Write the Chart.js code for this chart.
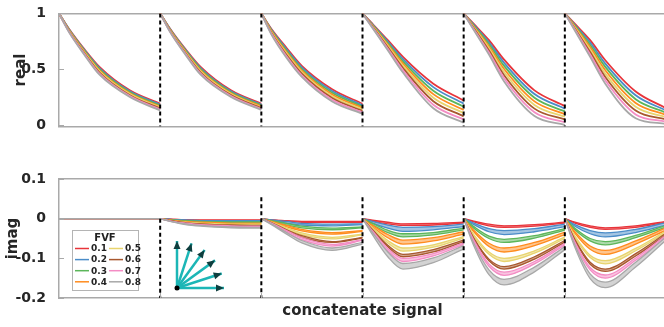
<!DOCTYPE html>
<html>
<head>
<meta charset="utf-8">
<script src="https://cdn.jsdelivr.net/npm/chart.js@4.4.1/dist/chart.umd.min.js"></script>
<style>
	html, body { margin: 0; padding: 0; background: #fff; }
	#wrap { position: relative; width: 664px; height: 327px; overflow: hidden; }
	#realBox { position: absolute; left: 0; top: 0; width: 672px; height: 140px; }
	#imagBox { position: absolute; left: 0; top: 160px; width: 672px; height: 167px; }
</style>
</head>
<body>
<div id="wrap">
	<div id="realBox"><canvas id="realChart"></canvas></div>
	<div id="imagBox"><canvas id="imagChart"></canvas></div>
</div>
<script>
// six concatenated decay segments, sampled at these fractions of each segment
const segmentCount = 6;
const fractions = [0, 0.1, 0.25, 0.4, 0.7, 1];
const dividerX = [1, 2, 3, 4, 5];

const fvf = ["0.1", "0.2", "0.3", "0.4", "0.5", "0.6", "0.7", "0.8"];
const fvfColors = ["#e8343a", "#4a8cc8", "#5cb65a", "#ff8c1e", "#e8d46e", "#a8582e", "#f48cc4", "#a8a8a8"];

const realTicks = [0, 0.5, 1];
const imagTicks = [-0.2, -0.1, 0, 0.1];

// every segment starts from these values
const realStart = 1;
const imagStart = 0;

// real part, 5 values per segment (at fractions 0.1, 0.25, 0.4, 0.7, 1)
const realF1 = [.86,.68,.52,.31,.19, .86,.68,.52,.31,.19, .86,.69,.53,.32,.19, .905,.76,.61,.37,.22, .905,.76,.585,.31,.17, .905,.76,.58,.30,.15];
const realF2 = [.856,.673,.51,.301,.181, .856,.673,.51,.301,.182, .853,.677,.516,.304,.177, .900,.747,.59,.339,.191, .897,.741,.557,.277,.146, .896,.739,.55,.266,.13];
const realF3 = [.851,.666,.50,.293,.173, .851,.666,.50,.293,.174, .846,.664,.501,.289,.164, .894,.734,.57,.307,.163, .889,.723,.529,.244,.121, .888,.717,.52,.231,.11];
const realF4 = [.847,.659,.49,.284,.164, .847,.659,.49,.284,.166, .839,.651,.487,.273,.151, .889,.721,.55,.276,.134, .881,.704,.501,.211,.097, .879,.696,.49,.197,.09];
const realF5 = [.843,.651,.48,.276,.156, .843,.651,.48,.276,.158, .831,.639,.473,.257,.139, .884,.709,.53,.244,.106, .874,.686,.474,.179,.073, .871,.674,.46,.163,.07];
const realF6 = [.839,.644,.47,.267,.147, .839,.644,.47,.267,.150, .824,.626,.459,.241,.126, .879,.696,.51,.213,.077, .866,.667,.446,.146,.049, .862,.653,.43,.129,.05];
const realF7 = [.834,.637,.46,.259,.139, .834,.637,.46,.259,.142, .817,.613,.444,.226,.113, .873,.683,.49,.181,.049, .858,.649,.418,.113,.024, .854,.631,.40,.094,.03];
const realF8 = [.83,.63,.45,.25,.13, .83,.63,.45,.25,.135, .81,.60,.43,.21,.10, .868,.67,.47,.15,.02, .85,.63,.39,.08,0, .845,.61,.37,.06,.01];

// imag part, upper and lower edge of each FVF band
const imagHiF1 = [0,0,0,0,0, -.001,-.003,-.003,-.003,-.003, -.003,-.005,-.007,-.007,-.007, -.004,-.009,-.013,-.012,-.009, -.006,-.014,-.018,-.015,-.009, -.009,-.018,-.023,-.018,-.007];
const imagLoF1 = [0,0,0,0,0, -.001,-.003,-.005,-.005,-.005, -.003,-.007,-.009,-.009,-.009, -.006,-.013,-.017,-.016,-.011, -.008,-.018,-.022,-.019,-.011, -.011,-.022,-.027,-.022,-.009];
const imagHiF2 = [0,0,0,0,0, -.002,-.003,-.005,-.005,-.005, -.003,-.007,-.012,-.014,-.013, -.007,-.016,-.022,-.020,-.014, -.011,-.025,-.030,-.025,-.014, -.015,-.030,-.036,-.027,-.010];
const imagLoF2 = [0,0,0,0,0, -.002,-.005,-.007,-.007,-.007, -.005,-.011,-.016,-.018,-.015, -.011,-.024,-.032,-.028,-.020, -.015,-.033,-.040,-.033,-.020, -.019,-.038,-.046,-.035,-.016];
const imagHiF3 = [0,0,0,0,0, -.003,-.005,-.007,-.008,-.008, -.005,-.012,-.019,-.024,-.021, -.012,-.029,-.038,-.035,-.024, -.020,-.044,-.052,-.043,-.025, -.024,-.050,-.058,-.042,-.017];
const imagLoF3 = [0,0,0,0,0, -.003,-.007,-.009,-.010,-.010, -.007,-.016,-.023,-.028,-.023, -.016,-.035,-.046,-.041,-.028, -.024,-.050,-.060,-.049,-.029, -.028,-.056,-.066,-.048,-.021];
const imagHiF4 = [0,0,0,0,0, -.004,-.007,-.009,-.011,-.011, -.007,-.017,-.027,-.035,-.030, -.017,-.040,-.054,-.048,-.033, -.029,-.062,-.074,-.060,-.034, -.033,-.069,-.080,-.056,-.023];
const imagLoF4 = [0,0,0,0,0, -.004,-.009,-.011,-.013,-.013, -.009,-.021,-.031,-.039,-.032, -.021,-.048,-.064,-.056,-.039, -.033,-.070,-.084,-.068,-.040, -.037,-.077,-.090,-.064,-.029];
const imagHiF5 = [0,0,0,0,0, -.005,-.009,-.011,-.014,-.014, -.009,-.023,-.036,-.047,-.039, -.023,-.055,-.074,-.066,-.045, -.040,-.084,-.100,-.081,-.046, -.044,-.092,-.106,-.075,-.031];
const imagLoF5 = [0,0,0,0,0, -.005,-.011,-.013,-.016,-.016, -.011,-.027,-.040,-.051,-.041, -.027,-.061,-.082,-.072,-.049, -.044,-.090,-.108,-.087,-.050, -.048,-.098,-.114,-.081,-.035];
const imagHiF6 = [0,0,0,0,0, -.005,-.010,-.013,-.016,-.017, -.010,-.028,-.043,-.058,-.047, -.028,-.067,-.090,-.078,-.054, -.049,-.102,-.121,-.096,-.055, -.053,-.110,-.127,-.088,-.037];
const imagLoF6 = [0,0,0,0,0, -.005,-.012,-.015,-.018,-.019, -.012,-.030,-.047,-.060,-.049, -.030,-.071,-.096,-.084,-.058, -.051,-.106,-.127,-.102,-.059, -.055,-.115,-.133,-.094,-.041];
const imagHiF7 = [0,0,0,0,0, -.006,-.011,-.015,-.018,-.019, -.011,-.030,-.048,-.065,-.053, -.031,-.075,-.100,-.088,-.061, -.054,-.114,-.135,-.108,-.062, -.059,-.123,-.142,-.099,-.042];
const imagLoF7 = [0,0,0,0,0, -.006,-.013,-.017,-.020,-.021, -.013,-.034,-.053,-.069,-.055, -.035,-.081,-.108,-.094,-.065, -.058,-.120,-.143,-.114,-.066, -.063,-.129,-.150,-.105,-.046];
const imagHiF8 = [0,0,0,0,0, -.007,-.013,-.017,-.021,-.022, -.013,-.035,-.055,-.074,-.060, -.035,-.084,-.113,-.099,-.068, -.062,-.129,-.153,-.122,-.070, -.067,-.139,-.160,-.110,-.046];
const imagLoF8 = [0,0,0,0,0, -.007,-.015,-.019,-.023,-.024, -.015,-.039,-.061,-.080,-.064, -.041,-.096,-.127,-.111,-.076, -.068,-.141,-.167,-.134,-.078, -.073,-.151,-.174,-.122,-.054];

// dashed separators: y extent in each panel
const realDividerTop = [1, 1, 1, 1, 1];
const realDividerBottom = -0.015;
const imagDividerTop = [0, 0.054, 0.054, 0.054, 0.054];
const imagDividerBottom = -0.2;

// fibre orientations in the inset (degrees)
const orientations = [0, 18, 36, 54, 72, 90];

const realSeries = [realF1, realF2, realF3, realF4, realF5, realF6, realF7, realF8];
const imagHiSeries = [imagHiF1, imagHiF2, imagHiF3, imagHiF4, imagHiF5, imagHiF6, imagHiF7, imagHiF8];
const imagLoSeries = [imagLoF1, imagLoF2, imagLoF3, imagLoF4, imagLoF5, imagLoF6, imagLoF7, imagLoF8];

const axisGray = "#a9a9a9";

Chart.defaults.font.family = "'DejaVu Sans', sans-serif";
Chart.defaults.font.weight = "bold";
Chart.defaults.color = "#222";

/**
 * Turn a per-segment value list into {x, y} points with a gap between segments
 */
function buildPoints(values, start) {
	const pts = [];
	const per = fractions.length - 1;
	for (let s = 0; s < segmentCount; s++) {
		pts.push({ x: s, y: start });
		for (let k = 1; k < fractions.length; k++) {
			pts.push({ x: s + fractions[k], y: values[s * per + k - 1] });
		}
		if (s < segmentCount - 1) pts.push({ x: s + 1, y: null });
	}
	return pts;
}

function withAlpha(hex, a) {
	const n = parseInt(hex.slice(1), 16);
	return "rgba(" + (n >> 16) + "," + ((n >> 8) & 255) + "," + (n & 255) + "," + a + ")";
}

function dividerSets(tops, bottom) {
	return dividerX.map(function (x, i) {
		return {
			data: [{ x: x, y: tops[i] }, { x: x, y: bottom }],
			borderColor: "#000",
			borderWidth: 2,
			borderDash: [4, 3],
			pointRadius: 0,
			tension: 0,
			fill: false,
			order: -1,
		};
	});
}

const curveStyle = {
	pointRadius: 0,
	tension: 0.4,
	cubicInterpolationMode: "monotone",
	spanGaps: false,
};

// small inward ticks like the original axes
const innerTicks = {
	id: "innerTicks",
	afterDatasetsDraw(chart, args, opts) {
		const ctx = chart.ctx;
		const area = chart.chartArea;
		const y = chart.scales.y;
		ctx.save();
		ctx.strokeStyle = axisGray;
		ctx.lineWidth = 1;
		ctx.beginPath();
		opts.yTicks.forEach(function (v) {
			const py = Math.round(y.getPixelForValue(v)) + 0.5;
			ctx.moveTo(area.left, py);
			ctx.lineTo(area.left + 5, py);
		});
		if (opts.xTicks) {
			const x = chart.scales.x;
			opts.xTicks.forEach(function (v) {
				const px = Math.round(x.getPixelForValue(v)) + 0.5;
				ctx.moveTo(px, area.bottom);
				ctx.lineTo(px, area.bottom - 5);
			});
		}
		ctx.stroke();
		ctx.restore();
	},
};

// FVF legend box and the orientation inset
const insetPlugin = {
	id: "inset",
	afterDraw(chart) {
		const ctx = chart.ctx;
		const area = chart.chartArea;
		ctx.save();

		const bx = area.left + 13;
		const by = area.top + 51;
		ctx.fillStyle = "#fff";
		ctx.fillRect(bx, by, 66, 60);
		ctx.strokeStyle = "#b4b4b4";
		ctx.lineWidth = 1;
		ctx.strokeRect(bx + 0.5, by + 0.5, 66, 60);

		ctx.fillStyle = "#222";
		ctx.textAlign = "center";
		ctx.textBaseline = "middle";
		ctx.font = "bold 10px 'DejaVu Sans'";
		ctx.fillText("FVF", bx + 33, by + 8);

		ctx.font = "bold 9px 'DejaVu Sans'";
		ctx.textAlign = "left";
		fvf.forEach(function (label, i) {
			const col = Math.floor(i / 4);
			const row = i % 4;
			const lx = bx + 3 + col * 34;
			const ly = by + 18.5 + row * 11.1;
			ctx.strokeStyle = fvfColors[i];
			ctx.lineWidth = 1.5;
			ctx.beginPath();
			ctx.moveTo(lx, ly);
			ctx.lineTo(lx + 14, ly);
			ctx.stroke();
			ctx.fillStyle = "#222";
			ctx.fillText(label, lx + 16, ly + 0.5);
		});

		const ox = area.left + 118;
		const oy = area.bottom - 10;
		const len = 47;
		orientations.forEach(function (deg) {
			const a = (deg * Math.PI) / 180;
			const ex = ox + len * Math.cos(a);
			const ey = oy - len * Math.sin(a);
			ctx.strokeStyle = "#1cb6b6";
			ctx.lineWidth = 2.5;
			ctx.beginPath();
			ctx.moveTo(ox, oy);
			ctx.lineTo(ex, ey);
			ctx.stroke();
			const hx = Math.cos(a);
			const hy = -Math.sin(a);
			ctx.fillStyle = "#0f3f3f";
			ctx.beginPath();
			ctx.moveTo(ex, ey);
			ctx.lineTo(ex - 8 * hx - 3.5 * hy, ey - 8 * hy + 3.5 * hx);
			ctx.lineTo(ex - 8 * hx + 3.5 * hy, ey - 8 * hy - 3.5 * hx);
			ctx.closePath();
			ctx.fill();
		});
		ctx.fillStyle = "#000";
		ctx.beginPath();
		ctx.arc(ox, oy, 2.5, 0, Math.PI * 2);
		ctx.fill();
		ctx.restore();
	},
};

function edgeAxis(position) {
	return {
		type: "linear",
		position: position,
		min: 0,
		max: segmentCount,
		ticks: { display: false },
		grid: { display: false },
		border: { color: axisGray, width: 1.5 },
		afterFit: function (s) {
			s.height = 0;
		},
	};
}

function yAxis(min, max, ticks, title, titlePad) {
	return {
		min: min,
		max: max,
		afterFit: function (s) {
			s.width = 59;
		},
		afterBuildTicks: function (s) {
			s.ticks = ticks.map(function (v) {
				return { value: v };
			});
		},
		ticks: {
			padding: 5,
			color: "#262626",
			font: { size: 14, weight: "bold" },
			callback: function (v) {
				return String(v);
			},
		},
		grid: { display: false },
		border: { color: axisGray, width: 1.5 },
		title: {
			display: true,
			text: title,
			color: "#262626",
			font: { size: 15, weight: "bold" },
			padding: { top: titlePad, bottom: 0 },
		},
	};
}

// top panel: real part (gray FVF drawn last, on top)
const realSets = realSeries.map(function (vals, i) {
	return Object.assign({
		data: buildPoints(vals, realStart),
		borderColor: fvfColors[i],
		borderWidth: 1.8,
		fill: false,
		order: fvf.length - i,
	}, curveStyle);
});

new Chart(document.getElementById("realChart"), {
	type: "line",
	data: { datasets: realSets.concat(dividerSets(realDividerTop, realDividerBottom)) },
	options: {
		animation: false,
		responsive: true,
		maintainAspectRatio: false,
		layout: { padding: { top: 11, right: 6, bottom: 10, left: 0 } },
		plugins: { legend: { display: false }, tooltip: { enabled: false }, innerTicks: { yTicks: realTicks } },
		scales: {
			x: edgeAxis("bottom"),
			xTop: edgeAxis("top"),
			y: yAxis(realDividerBottom, 1, realTicks, "real", 12),
		},
	},
	plugins: [innerTicks],
});

// bottom panel: imaginary part, each FVF drawn as a band
const imagSets = [];
imagHiSeries.forEach(function (hi, i) {
	imagSets.push(Object.assign({
		data: buildPoints(hi, imagStart),
		borderColor: fvfColors[i],
		borderWidth: 1.3,
		fill: false,
		order: fvf.length - i,
	}, curveStyle));
	imagSets.push(Object.assign({
		data: buildPoints(imagLoSeries[i], imagStart),
		borderColor: fvfColors[i],
		borderWidth: 1.3,
		backgroundColor: withAlpha(fvfColors[i], 0.5),
		fill: "-1",
		order: fvf.length - i,
	}, curveStyle));
});

const imagX = edgeAxis("bottom");
imagX.title = {
	display: true,
	text: "concatenate signal",
	color: "#262626",
	font: { size: 15, weight: "bold" },
	padding: { top: 0, bottom: 7 },
};
imagX.afterFit = function (s) {
	s.height = 29;
};

new Chart(document.getElementById("imagChart"), {
	type: "line",
	data: { datasets: imagSets.concat(dividerSets(imagDividerTop, imagDividerBottom)) },
	options: {
		animation: false,
		responsive: true,
		maintainAspectRatio: false,
		layout: { padding: { top: 19, right: 6, bottom: 0, left: 0 } },
		plugins: {
			legend: { display: false },
			tooltip: { enabled: false },
			innerTicks: { yTicks: imagTicks, xTicks: dividerX },
		},
		scales: {
			x: imagX,
			xTop: edgeAxis("top"),
			y: yAxis(imagDividerBottom, 0.1, imagTicks, "imag", 4),
		},
	},
	plugins: [innerTicks, insetPlugin],
});
</script>
</body>
</html>
